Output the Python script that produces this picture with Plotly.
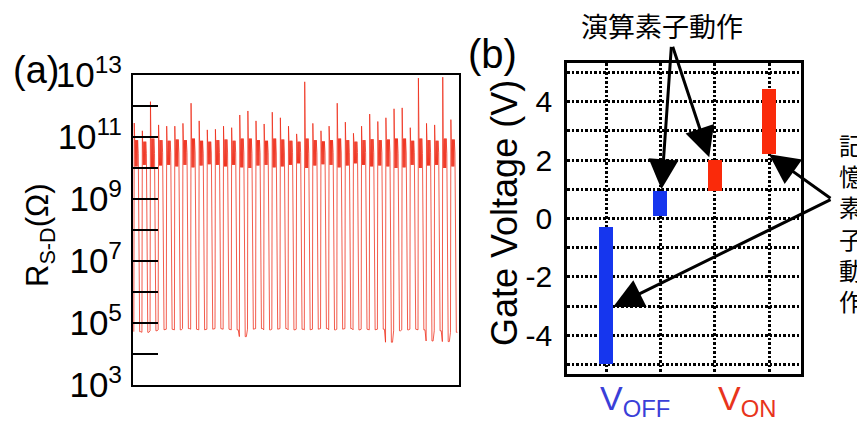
import plotly.graph_objects as go

# ---------------- Panel (a): R_S-D switching cycles (log10 of Ohm) ----------------
peak_exp = [11.45, 11.20, 12.14, 11.39, 11.35, 11.35, 11.44, 12.09, 11.52, 11.23,
            11.25, 11.35, 11.30, 11.71, 11.84, 11.52, 11.42, 11.80, 11.62, 11.35,
            11.10, 12.78, 11.44, 11.20, 11.35, 12.09, 11.48, 11.12, 11.35, 11.74,
            11.50, 11.62, 11.91, 11.94, 11.30, 12.90, 11.44, 11.39, 12.93, 11.56]
high_max_exp = [10.90, 10.85, 10.95, 10.90, 10.88, 10.92, 10.90, 10.95, 10.88, 10.85,
                10.90, 10.92, 10.88, 10.95, 10.95, 10.90, 10.88, 10.95, 10.92, 10.88,
                10.85, 10.95, 10.90, 10.86, 10.90, 10.95, 10.90, 10.85, 10.90, 10.93,
                10.90, 10.92, 10.95, 10.95, 10.88, 10.95, 10.90, 10.88, 10.95, 10.92]
high_min_exp = [10.05, 10.10, 10.00, 10.08, 10.10, 10.05, 10.10, 10.02, 10.08, 10.12,
                10.10, 10.05, 10.10, 10.02, 10.00, 10.08, 10.10, 10.02, 10.05, 10.10,
                10.15, 10.00, 10.08, 10.12, 10.10, 10.02, 10.08, 10.15, 10.10, 10.05,
                10.08, 10.05, 10.00, 10.02, 10.10, 10.00, 10.08, 10.10, 10.00, 10.05]
low_exp = [4.72, 4.70, 4.75, 4.78, 4.80, 4.78, 4.82, 4.80, 4.78, 4.80,
           4.82, 4.80, 4.78, 4.56, 4.80, 4.82, 4.78, 4.80, 4.82, 4.78,
           4.80, 4.78, 4.80, 4.82, 4.78, 4.80, 4.82, 4.78, 4.80, 4.78,
           4.80, 4.38, 4.75, 4.78, 4.80, 4.78, 4.42, 4.75, 4.40, 4.70]

# sampling phases inside one cycle (fraction of a cycle): high state then a short low state
phase = [0.00, 0.05, 0.11, 0.17, 0.23, 0.29, 0.35, 0.41, 0.47, 0.55, 0.72, 0.86]

t_vals, r_vals = [], []
for k in range(len(peak_exp)):
    hi, lo = high_max_exp[k], high_min_exp[k]
    seq = [low_exp[k], peak_exp[k], hi, lo, hi, lo, hi, lo, hi, (hi + lo) / 2,
           low_exp[k], low_exp[k]]
    for p, e in zip(phase, seq):
        t_vals.append(k + p)
        r_vals.append(10 ** e)

r_tick_exp = list(range(3, 14))
r_tick_text = [f"10<sup>{e}</sup>" if e % 2 == 1 else " " for e in r_tick_exp]

# ---------------- Panel (b): gate voltage windows ----------------
gate_pos = [1, 2, 3, 4]
gate_low = [-5.0, 0.10, 0.95, 2.20]
gate_high = [-0.30, 0.95, 2.00, 4.45]
gate_colors = ["#1636ee", "#1636ee", "#fa2a0a", "#fa2a0a"]
v_ticks = list(range(-5, 6))
v_tick_text = [str(v) if v % 2 == 0 else " " for v in v_ticks]

# page body has an 8px margin: figure occupies (8,8)-(865,426) of the window
OFF = 8
W, H = 865 - OFF, 426 - OFF
def px(x):
    return (x - OFF) / W
def py(y):
    return 1 - (y - OFF) / H

fig = go.Figure()
fig.add_trace(go.Scatter(x=t_vals, y=r_vals, mode="lines",
                         line=dict(color="rgba(238,38,18,0.75)", width=1),
                         xaxis="x", yaxis="y", showlegend=False))
fig.add_trace(go.Bar(x=gate_pos, base=gate_low,
                     y=[h - l for h, l in zip(gate_high, gate_low)],
                     width=0.26, marker=dict(color=gate_colors, line=dict(width=0)),
                     xaxis="x2", yaxis="y2", showlegend=False))

font_family = "Liberation Sans, Arial, sans-serif"
cjk = "Noto Sans CJK JP, sans-serif"

fig.update_layout(
    template="none",
    width=W, height=H, margin=dict(l=0, r=0, t=0, b=0, autoexpand=False),
    paper_bgcolor="white", plot_bgcolor="white",
    font=dict(family=font_family, color="black"),
    xaxis=dict(domain=[px(133), px(459)], range=[-0.1, 40.05], automargin=False,
               showticklabels=False, ticks="", showgrid=False, zeroline=False,
               showline=True, mirror=True, linecolor="black", linewidth=2),
    yaxis=dict(domain=[py(385), py(75)], type="log", range=[3, 13], automargin=False,
               tickvals=[10 ** e for e in r_tick_exp], ticktext=r_tick_text,
               ticks="inside", ticklen=25, tickwidth=2, tickcolor="black",
               tickfont=dict(size=35, family=font_family), ticklabelstandoff=2,
               showgrid=False, zeroline=False,
               showline=True, mirror=True, linecolor="black", linewidth=2),
    xaxis2=dict(domain=[px(567), px(801)], range=[0.282, 4.589], automargin=False,
                tickvals=gate_pos, showticklabels=False, ticks="",
                showgrid=True, gridcolor="black", gridwidth=2.5, griddash="2.5px,2px",
                zeroline=False, showline=True, mirror=True, linecolor="black", linewidth=2.5,
                anchor="y2"),
    yaxis2=dict(domain=[py(374), py(63)], range=[-5.33, 5.33], automargin=False,
                tickvals=v_ticks, ticktext=v_tick_text, ticks="",
                tickfont=dict(size=30, family=font_family), ticklabelstandoff=6,
                showgrid=True, gridcolor="black", gridwidth=2.5, griddash="2.5px,2px",
                zeroline=False, showline=True, mirror=True, linecolor="black", linewidth=2.5,
                anchor="x2"),
    bargap=0,
)

ann = []
def txt(x, y, s, size, color="black", angle=0, family=font_family):
    ann.append(dict(x=px(x), y=py(y), xref="paper", yref="paper", text=s,
                    showarrow=False, xanchor="center", yanchor="middle",
                    textangle=angle, font=dict(size=size, color=color, family=family)))

txt(36, 70, "(a)", 38)
txt(492, 54, "(b)", 40)
txt(40, 235, "R<sub>S-D</sub>(Ω)", 31, angle=-90)
txt(505, 213, "Gate Voltage (V)", 36, angle=-90)
txt(662, 25, "演算素子動作", 27, family=cjk)
txt(851, 223, "<br>".join("記憶素子動作"), 24, family=cjk)
txt(635, 400, "V<sub>OFF</sub>", 34, color="#3a3fd8")
txt(747, 400, "V<sub>ON</sub>", 34, color="#e8341c")

def arrow(x, y, axp, ayp):
    ann.append(dict(x=x, y=y, xref="x2", yref="y2", ax=axp, ay=ayp,
                    axref="pixel", ayref="pixel", text="", showarrow=True,
                    arrowhead=2, arrowsize=2.0, arrowwidth=3, arrowcolor="black",
                    standoff=0, startstandoff=0))

arrow(2.02, 1.00, 10, -144)
arrow(2.90, 2.10, -37, -112)
arrow(4.00, 2.20, 63, 45)
arrow(1.13, -3.03, 219, -108)

fig.update_layout(annotations=ann)
fig.write_html("out.html")
